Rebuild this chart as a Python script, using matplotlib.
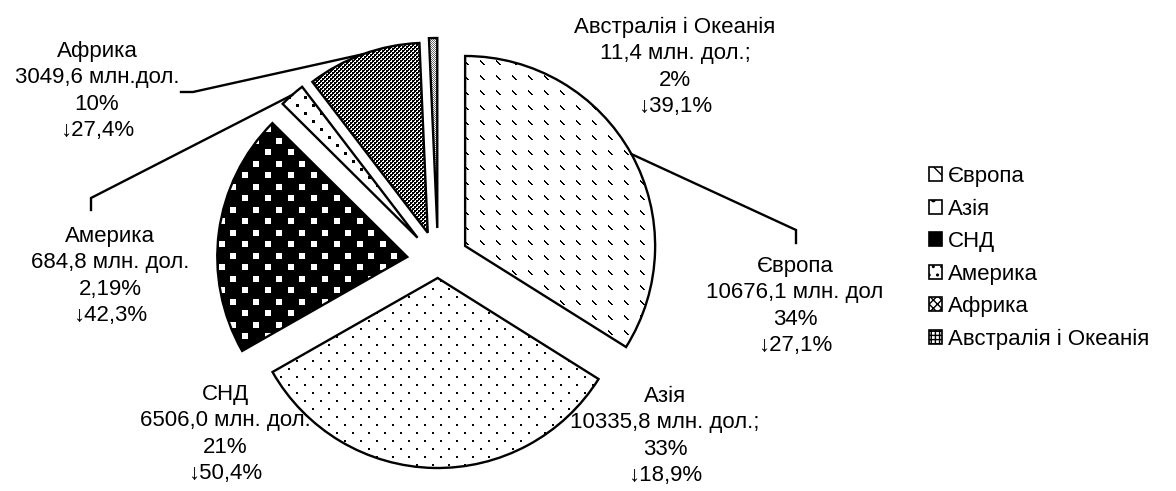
import numpy as np
import matplotlib
matplotlib.use('Agg')
import matplotlib.pyplot as plt
import matplotlib.patches as mpatches

# ---- data ----
regions = ['Європа', 'Азія', 'СНД', 'Америка', 'Африка', 'Австралія і Океанія']
values_mln = [10676.1, 10335.8, 6506.0, 684.8, 3049.6, 11.4]
# slice sizes as drawn in the picture (Australia's sliver is drawn wider than its value)
slice_sizes = [10676.1, 10335.8, 6506.0, 684.8, 3049.6, 220.0]
value_labels = ['10676,1 млн. дол', '10335,8 млн. дол.;', '6506,0 млн. дол.',
                '684,8 млн. дол.', '3049,6 млн.дол.', '11,4 млн. дол.;']
shares = ['34%', '33%', '21%', '2,19%', '10%', '2%']
changes = ['↓27,1%', '↓18,9%', '↓50,4%', '↓42,3%', '↓27,4%', '↓39,1%']

W, H = 1176, 491
FONT = ['Liberation Sans', 'DejaVu Sans']
plt.rcParams['font.family'] = FONT
plt.rcParams['hatch.linewidth'] = 1.0
FS = 16

fig = plt.figure(figsize=(W / 100, H / 100), dpi=100)
ax = fig.add_axes([0, 0, 1, 1])

center = (438, H - 261)
radius = 190
explode = [31, 17, 31, 31, 30, 33]
wedges, _ = ax.pie(slice_sizes, startangle=90, counterclock=False, center=center,
                   radius=radius, explode=explode,
                   wedgeprops=dict(facecolor='white', edgecolor='none'))

# ---- fill textures (pixel grid) ----
rr, cc = np.mgrid[0:H, 0:W]

def tex_europe():
    a = rr % 15
    b = cc % 16
    dash = ((a == b) | (a == b + 1)) & (a < 5)
    return np.where(dash, 0.0, 1.0)

def tex_asia():
    row = rr % 8 < 2
    shift = ((rr // 8) % 2) * 8
    col = (cc + shift) % 16 < 2
    return np.where(row & col, 0.0, 1.0)

def tex_cis():
    m1 = (rr % 23 < 6) & (cc % 23 < 6)
    m2 = ((rr + 12) % 23 < 6) & ((cc + 11) % 23 < 6)
    return np.where(m1 | m2, 1.0, 0.0)

def tex_america():
    row = rr % 8 < 3
    shift = ((rr // 8) % 2) * 8
    col = (cc + shift) % 16 < 3
    return np.where(row & col, 0.0, 1.0)

def tex_africa():
    black = ((rr // 2 + cc // 2) % 2 == 0) | ((rr % 2 == 0) & (cc % 2 == 0))
    return np.where(black, 0.0, 1.0)

def tex_australia():
    return np.where((rr + cc) % 2 == 0, 0.4, 1.0)

textures = [tex_europe(), tex_asia(), tex_cis(), tex_america(), tex_africa(), tex_australia()]

for w, t in zip(wedges, textures):
    im = ax.imshow(t, cmap='gray', vmin=0, vmax=1, extent=(0, W, 0, H), origin='upper',
                   interpolation='nearest', aspect='auto', zorder=2)
    im.set_clip_path(w)
    ax.add_patch(mpatches.Wedge(w.center, w.r, w.theta1, w.theta2, fill=False,
                                ec='black', lw=1.7, zorder=4, joinstyle='miter'))

ax.set_xlim(0, W)
ax.set_ylim(0, H)
ax.axis('off')

# ---- labels ----
label_pos = [(795, 306), (665, 436), (225, 434), (110, 276), (97, 91), (675, 67)]
for i in range(len(regions)):
    txt = f"{regions[i]}\n{value_labels[i]}\n{shares[i]}\n{changes[i]}"
    x, y = label_pos[i]
    ax.text(x, H - y, txt, ha='center', va='center', multialignment='center',
            fontsize=FS, color='black', zorder=6, linespacing=1.35)

def bisector_point(w):
    a = np.deg2rad((w.theta1 + w.theta2) / 2)
    return (w.center[0] + w.r * np.cos(a), w.center[1] + w.r * np.sin(a))

# leader lines (elbow points are layout positions)
elbows = {0: [(796, 230), (796, 243)], 3: [(91, 198), (91, 210)], 4: [(193, 92), (181, 92)]}
for i, pts in elbows.items():
    sx, sy = bisector_point(wedges[i])
    xs = [sx] + [p[0] for p in pts]
    ys = [sy] + [H - p[1] for p in pts]
    ax.plot(xs, ys, color='black', lw=1.7, zorder=5, solid_joinstyle='miter')

# ---- legend ----
leg_style = [dict(facecolor='white', hatch='\\'), dict(facecolor='white', hatch='.'),
             dict(facecolor='black', hatch=None), dict(facecolor='white', hatch='..'),
             dict(facecolor='white', hatch='xxxx'), dict(facecolor='white', hatch='++++')]
handles = [mpatches.Patch(edgecolor='black', lw=1.2, label=r, **s)
           for r, s in zip(regions, leg_style)]
ax.legend(handles=handles, loc='upper left', bbox_to_anchor=(929, H - 166),
          bbox_transform=ax.transData, frameon=False, fontsize=FS,
          handlelength=0.6, handleheight=0.6, handletextpad=0.25,
          labelspacing=0.52, borderpad=0, borderaxespad=0)

fig.savefig('out.png', dpi=100)
